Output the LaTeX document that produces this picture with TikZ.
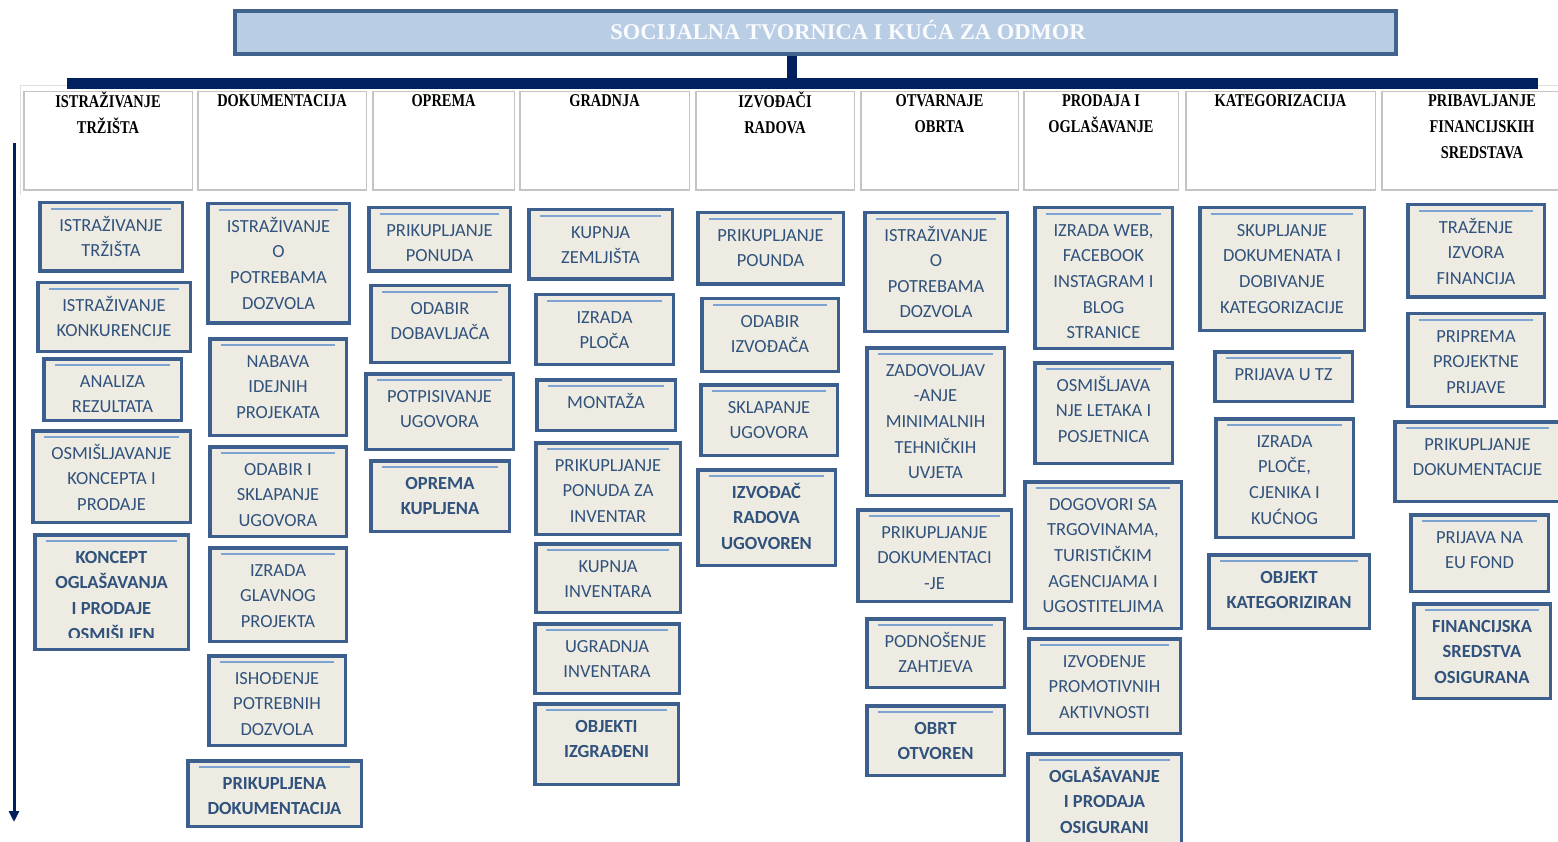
\documentclass[tikz,border=0pt]{standalone}
\usepackage{fontspec}
\setmainfont{Liberation Serif}
\newfontfamily\boxfont{Carlito}
\newfontfamily\headfont[FakeStretch=0.8]{Liberation Serif}
\usetikzlibrary{arrows.meta}
\definecolor{busblue}{HTML}{002060}
\definecolor{titlefill}{HTML}{B9CDE5}
\definecolor{titleline}{HTML}{41648F}
\definecolor{boxfill}{HTML}{EEECE2}
\definecolor{boxline}{HTML}{3C5F8E}
\definecolor{boxrule}{HTML}{7DA3D3}
\definecolor{boxtext}{HTML}{30527C}
\definecolor{cellline}{HTML}{C4C4C4}
\begin{document}
\begin{tikzpicture}[x=1pt,y=-1pt,
 titlebox/.style={draw=titleline,line width=4pt,fill=titlefill,inner sep=0pt},
 titletext/.style={font=\bfseries\fontsize{22.5}{26}\selectfont,text=white!94!titlefill,inner sep=0pt,anchor=base},
 cell/.style={draw=cellline,line width=1.5pt,inner sep=0pt},
 celltext/.style={font=\headfont\bfseries\fontsize{18}{26}\selectfont,align=center,anchor=north,inner sep=0pt},
 taskbox/.style={draw=boxline,line width=3.5pt,fill=boxfill,inner sep=0pt},
 tasktext/.style={font=\boxfont\fontsize{18.5}{25.6}\selectfont,text=boxtext,align=center,anchor=north,inner sep=0pt},
 donetext/.style={tasktext,font=\boxfont\bfseries\fontsize{18.5}{25.6}\selectfont},
 topline/.style={draw=boxrule,line width=1.5pt},
 bus/.style={draw=busblue,line width=11pt},
 timeline/.style={draw=busblue,line width=3pt,-{Triangle[width=10pt,length=11pt]}}]
\useasboundingbox (0,0) rectangle (1558,842);
% header row
\draw[gray!25,line width=1pt] (20,195) -- (20,86) -- (1570,86) ;
\foreach \a/\c/\txt [count=\k] in {23/193/ISTRAŽIVANJE\\TRŽIŠTA, 197/367/DOKUMENTACIJA,
 372/515/OPREMA, 519/690/GRADNJA, 695/855/IZVOĐAČI\\RADOVA, 860/1019/OTVARNAJE\\OBRTA,
 1023/1179/PRODAJA I\\OGLAŠAVANJE, 1185/1376/KATEGORIZACIJA,
 1381/1583/PRIBAVLJANJE\\FINANCIJSKIH\\SREDSTAVA}{
 \node[cell,minimum width={\c-\a-1.5},minimum height=98.5] (h\k) at ({(\a+\c)/2},141) {};
 \node[celltext] (hl\k) at ({(\a+\c)/2},92) {\rule{0pt}{14pt}\txt};}
% title and bus
\coordinate (busL) at (67,83.5);
\coordinate (busR) at (1538,83.5);
\draw[bus] (busL) -- (busR);
\node[titlebox,minimum width=1161,minimum height=43] (title) at (815.5,32.5) {};
\coordinate (stubtop) at ([xshift=-23.5pt]title.south);
\draw[bus,line width=10pt] (stubtop) -- (stubtop |- busL);
\node[titletext] (titlelbl) at (848,39.5) {SOCIJALNA TVORNICA I KUĆA ZA ODMOR};
% time arrow
\coordinate (timetop) at (14,143);
\coordinate (timeend) at (14,822);
\draw[timeline] (timetop) -- (timeend);
% steps, x1/y1/x2/y2/text
\foreach \a/\b/\c/\d/\txt [count=\k] in {
 38/201/184/273/ISTRAŽIVANJE\\TRŽIŠTA,
 36/281/192/353/ISTRAŽIVANJE\\KONKURENCIJE,
 42/357/183/422/ANALIZA\\REZULTATA,
 31/429/192/524/OSMIŠLJAVANJE\\KONCEPTA I\\PRODAJE,
 206/202/351/325/ISTRAŽIVANJE\\O\\POTREBAMA\\DOZVOLA,
 208/337/348/437/NABAVA\\IDEJNIH\\PROJEKATA,
 208/445/348/538/ODABIR I\\SKLAPANJE\\UGOVORA,
 208/546/348/643/IZRADA\\GLAVNOG\\PROJEKTA,
 207/654/347/747/ISHOĐENJE\\POTREBNIH\\DOZVOLA,
 367/206/512/273/PRIKUPLJANJE\\PONUDA,
 369/284/511/364/ODABIR\\DOBAVLJAČA,
 364/372/515/451/POTPISIVANJE\\UGOVORA,
 527/208/674/281/KUPNJA\\ZEMLJIŠTA,
 534/293/675/366/IZRADA\\PLOČA,
 535/378/677/432/MONTAŽA,
 534/441/682/536/PRIKUPLJANJE\\PONUDA ZA\\INVENTAR,
 534/542/682/614/KUPNJA\\INVENTARA,
 533/622/681/695/UGRADNJA\\INVENTARA,
 696/211/845/286/PRIKUPLJANJE\\POUNDA,
 700/297/840/373/ODABIR\\IZVOĐAČA,
 699/383/839/457/SKLAPANJE\\UGOVORA,
 863/211/1009/333/ISTRAŽIVANJE\\O\\POTREBAMA\\DOZVOLA,
 865/346/1006/497/ZADOVOLJAV\\-ANJE\\MINIMALNIH\\TEHNIČKIH\\UVJETA,
 856/508/1013/603/PRIKUPLJANJE\\DOKUMENTACI\\-JE,
 865/617/1006/689/PODNOŠENJE\\ZAHTJEVA,
 1033/206/1174/350/IZRADA WEB{,}\\FACEBOOK\\INSTAGRAM I\\BLOG\\STRANICE,
 1033/361/1174/465/OSMIŠLJAVA\\NJE LETAKA I\\POSJETNICA,
 1023/480/1183/630/DOGOVORI SA\\TRGOVINAMA{,}\\TURISTIČKIM\\AGENCIJAMA I\\UGOSTITELJIMA,
 1027/637/1182/735/IZVOĐENJE\\PROMOTIVNIH\\AKTIVNOSTI,
 1198/206/1366/332/SKUPLJANJE\\DOKUMENATA I\\DOBIVANJE\\KATEGORIZACIJE,
 1213/350/1354/403/PRIJAVA U TZ,
 1214/417/1355/539/IZRADA\\PLOČE{,}\\CJENIKA I\\KUĆNOG,
 1406/203/1546/299/TRAŽENJE\\IZVORA\\FINANCIJA,
 1406/312/1546/408/PRIPREMA\\PROJEKTNE\\PRIJAVE,
 1393/420/1562/503/PRIKUPLJANJE\\DOKUMENTACIJE,
 1409/513/1550/593/PRIJAVA NA\\EU FOND}{
 \node[taskbox,minimum width={\c-\a-3.5},minimum height={\d-\b-3.5}] (t\k) at ({(\a+\c)/2},{(\b+\d)/2}) {};
 \draw[topline] ([shift={(13,8)}]t\k.north west) -- ([shift={(-13,8)}]t\k.north east);
 \node[tasktext] (tl\k) at ({(\a+\c)/2},{\b+14}) {\rule{0pt}{16pt}\txt};}
% milestones (bold)
\foreach \a/\b/\c/\d/\txt [count=\k] in {
 33/533/190/651/KONCEPT\\OGLAŠAVANJA\\I PRODAJE\\OSMIŠLJEN,
 186/759/363/828/PRIKUPLJENA\\DOKUMENTACIJA,
 369/459/511/533/OPREMA\\KUPLJENA,
 533/702/680/786/OBJEKTI\\IZGRAĐENI,
 696/468/837/567/IZVOĐAČ\\RADOVA\\UGOVOREN,
 865/704/1006/777/OBRT\\OTVOREN,
 1026/752/1183/860/OGLAŠAVANJE\\I PRODAJA\\OSIGURANI,
 1207/553/1371/630/OBJEKT\\KATEGORIZIRAN,
 1412/602/1552/700/FINANCIJSKA\\SREDSTVA\\OSIGURANA}{
 \node[taskbox,minimum width={\c-\a-3.5},minimum height={\d-\b-3.5}] (d\k) at ({(\a+\c)/2},{(\b+\d)/2}) {};
 \draw[topline] ([shift={(13,8)}]d\k.north west) -- ([shift={(-13,8)}]d\k.north east);
 \begin{scope}
 \clip ([shift={(2,2)}]d\k.north west) rectangle ([shift={(-2,-14)}]d\k.south east);
 \node[donetext] (dl\k) at ({(\a+\c)/2},{\b+14}) {\rule{0pt}{16pt}\txt};
 \end{scope}}
\end{tikzpicture}
\end{document}
